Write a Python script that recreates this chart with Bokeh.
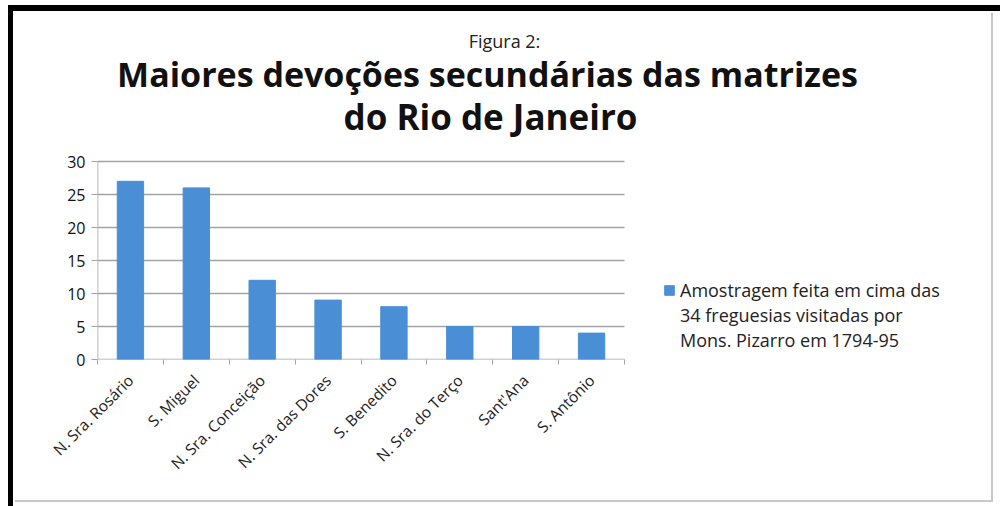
from bokeh.plotting import figure
from bokeh.models import Range1d, FixedTicker, Legend, LegendItem, Label
from bokeh.embed import file_html
from bokeh.resources import INLINE
from math import pi

categories = ["N. Sra. Rosário", "S. Miguel", "N. Sra. Conceição", "N. Sra. das Dores",
              "S. Benedito", "N. Sra. do Terço", "Sant'Ana", "S. Antônio"]
counts = [27, 26, 12, 9, 8, 5, 5, 4]
y_ticks = [0, 5, 10, 15, 20, 25, 30]
figure_label = "Figura 2:"
title_lines = ["Maiores devoções secundárias das matrizes", "do Rio de Janeiro"]
legend_lines = ["Amostragem feita em cima das", "34 freguesias visitadas por", "Mons. Pizarro em 1794-95"]

W, H = 1000, 506
# plot-area geometry in page pixels (bars/grid occupy FL..FR x FT..FB)
FL, FR, FT, FB = 97, 624, 161, 359
CANVAS_RIGHT, CANVAS_TOP = 990, 13
BAR = "#4a8fd6"
FONT = "Open Sans"
GRID = "#a3a3a3"

n = len(categories)
ymax = y_ticks[-1]
px_per_x = (FR - FL) / n
px_per_y = (FB - FT) / ymax
x_end = (CANVAS_RIGHT - FL) / px_per_x
y_end = (FB - CANVAS_TOP) / px_per_y

def dx(px):
    return (px - FL) / px_per_x

def dy(py):
    return (FB - py) / px_per_y

centers = [i + 0.5 for i in range(n)]
bounds = list(range(n + 1))

p = figure(width=W, height=H, x_range=Range1d(0, x_end), y_range=Range1d(0, y_end),
           output_backend="svg", toolbar_location=None,
           min_border_left=FL, min_border_right=W - CANVAS_RIGHT,
           min_border_top=CANVAS_TOP, min_border_bottom=H - FB)
p.background_fill_color = None
p.border_fill_color = None
p.outline_line_color = None
p.styles = {
    "background": ("linear-gradient(#000,#000) 8px 5px / 992px 6px no-repeat, "
                   "linear-gradient(#000,#000) 8px 5px / 5px 501px no-repeat, "
                   "linear-gradient(#c8c8c8,#c8c8c8) 15px 500px / 978px 2px no-repeat, "
                   "linear-gradient(#c8c8c8,#c8c8c8) 991px 13px / 2px 489px no-repeat, "
                   "#ffffff"),
}

# gridlines and axis lines limited to the plot area
p.segment(x0=[0] * len(y_ticks), x1=[n] * len(y_ticks), y0=y_ticks, y1=y_ticks,
          line_color=GRID, line_width=1.5)
p.segment(x0=[0], x1=[0], y0=[0], y1=[ymax], line_color=GRID, line_width=1.5)

bars = p.vbar(x=centers, top=counts, width=0.4, color=BAR)
blank = p.vbar(x=[], top=[], width=0.4, fill_alpha=0, line_alpha=0)

p.xgrid.visible = False
p.ygrid.visible = False
p.yaxis.ticker = FixedTicker(ticks=y_ticks)
p.yaxis.axis_line_color = None
p.yaxis.major_tick_line_color = GRID
p.yaxis.major_tick_out = 6
p.yaxis.major_tick_in = 0
p.yaxis.minor_tick_line_color = None
p.yaxis.major_label_text_font = FONT
p.yaxis.major_label_text_font_size = "16px"
p.yaxis.major_label_text_color = "#111111"
p.yaxis.major_label_standoff = 6

p.xaxis.ticker = FixedTicker(ticks=centers, minor_ticks=bounds)
p.xaxis.major_label_overrides = {c: lab for c, lab in zip(centers, categories)}
p.xaxis.axis_line_color = None
p.xaxis.major_tick_line_color = None
p.xaxis.minor_tick_line_color = GRID
p.xaxis.minor_tick_out = 5
p.xaxis.minor_tick_in = 0
p.xaxis.major_label_orientation = pi / 4
p.xaxis.major_label_text_font = FONT
p.xaxis.major_label_text_font_size = "15.5px"
p.xaxis.major_label_text_color = "#222222"
p.xaxis.major_label_standoff = 12

# titles
p.add_layout(Label(x=dx(504), y=dy(40), text=figure_label, text_font=FONT,
                   text_font_size="18px", text_color="#222222",
                   text_align="center", text_baseline="middle"))
p.add_layout(Label(x=dx(487), y=dy(73), text=title_lines[0], text_font=FONT,
                   text_font_size="34px", text_font_style="bold", text_color="#111111",
                   text_align="center", text_baseline="middle"))
p.add_layout(Label(x=dx(490), y=dy(116), text=title_lines[1], text_font=FONT,
                   text_font_size="35px", text_font_style="bold", text_color="#111111",
                   text_align="center", text_baseline="middle"))

items = [LegendItem(label=legend_lines[0], renderers=[bars])]
items += [LegendItem(label=t, renderers=[blank]) for t in legend_lines[1:]]
legend = Legend(items=items, location=(663 - FL, FB - 352), orientation="vertical",
                glyph_width=12, glyph_height=12, label_height=20, spacing=1,
                label_standoff=5, padding=0, margin=0,
                border_line_color=None, background_fill_alpha=0,
                label_text_font=FONT, label_text_font_size="18px",
                label_text_color="#222222")
p.add_layout(legend)

open("out.html", "w").write(file_html(p, INLINE))
